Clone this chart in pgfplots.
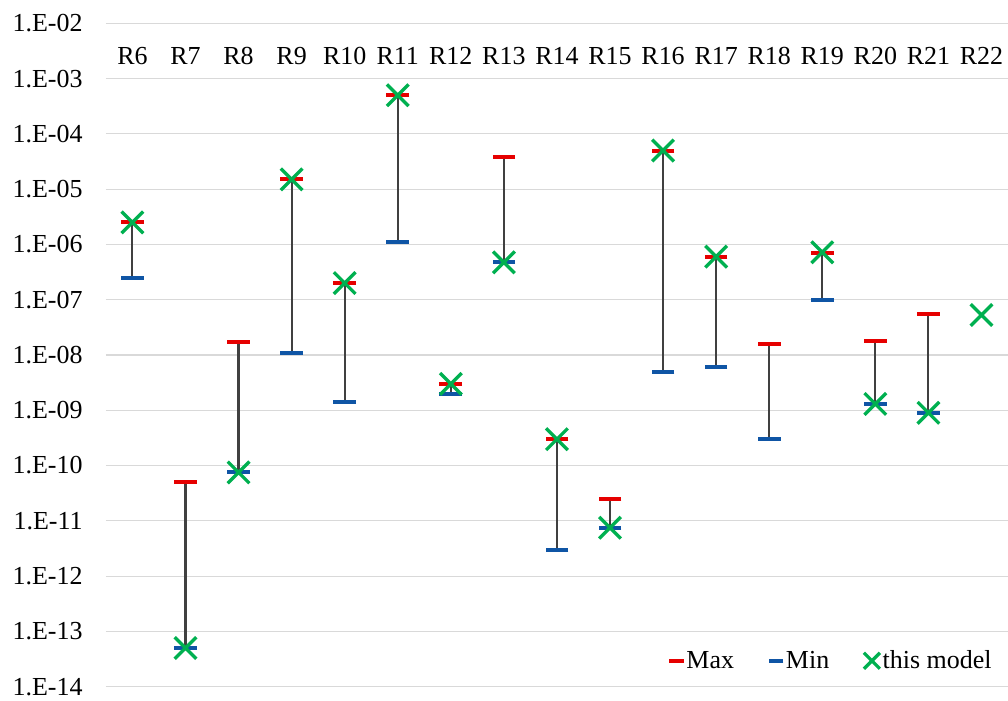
\documentclass[border=0pt]{standalone}
\usepackage{pgfplots}
\pgfplotsset{compat=1.18}
\usepackage{pgfplotstable}
\usepackage{fontspec}
\setmainfont{LiberationSerif}[Extension=.ttf,UprightFont=*-Regular,BoldFont=*-Bold,ItalicFont=*-Italic,BoldItalicFont=*-BoldItalic]
\definecolor{maxred}{RGB}{230,0,0}
\definecolor{minblue}{RGB}{15,85,165}
\definecolor{modgreen}{RGB}{0,176,80}
\definecolor{barcol}{RGB}{64,64,64}
\definecolor{gridcol}{RGB}{217,217,217}

\pgfplotsset{
  onemark legend/.style={legend image code/.code={\draw[##1] plot coordinates {(0.2cm,0cm)};}},
}

\pgfplotstableread{
x max min
0 2.5e-6 2.5e-7
1 5.0e-11 5.0e-14
2 1.7e-8 7.5e-11
3 1.5e-5 1.1e-8
4 2.0e-7 1.4e-9
5 5.0e-4 1.1e-6
6 3.0e-9 2.0e-9
7 3.8e-5 4.75e-7
8 3.0e-10 3.0e-12
9 2.5e-11 7.5e-12
10 5.0e-5 5.0e-9
11 6.0e-7 6.0e-9
12 1.6e-8 3.0e-10
13 7.0e-7 1.0e-7
14 1.8e-8 1.3e-9
15 5.4e-8 9.0e-10
}\rangetable

\pgfplotstableread{
x model
0 2.5e-6
1 5.0e-14
2 7.5e-11
3 1.5e-5
4 2.0e-7
5 5.0e-4
6 3.0e-9
7 4.75e-7
8 3.0e-10
9 7.5e-12
10 5.0e-5
11 6.0e-7
13 7.2e-7
14 1.3e-9
15 9.0e-10
16 5.3e-8
}\modeltable

\begin{document}
\begin{tikzpicture}
\begin{axis}[
  scale only axis,
  width=677.25pt, height=498pt,
  ymode=log, log basis y=10,
  ymin=1e-14, ymax=1e-2,
  xmin=-0.5, xmax=16.5,
  font=\fontsize{19.5}{23.4}\selectfont,
  axis line style={draw=none},
  tick style={draw=none},
  ymajorgrids, grid style={gridcol, line width=0.8pt},
  ytick={1e-14,1e-13,1e-12,1e-11,1e-10,1e-9,1e-8,1e-7,1e-6,1e-5,1e-4,1e-3,1e-2},
  yticklabel={\pgfmathparse{int(round(-\tick))}\let\ee\pgfmathresult 1.E-\ifnum\ee<10 0\fi\ee},
  yticklabel style={xshift=-14pt},
  xtick={0,...,16},
  xticklabels={R6,R7,R8,R9,R10,R11,R12,R13,R14,R15,R16,R17,R18,R19,R20,R21,R22},
  xticklabel pos=upper,
  xticklabel style={anchor=center, yshift=-24.75pt},
  legend style={draw=none, fill=none, at={(0.985,0.039)}, anchor=east,
    legend columns=3, font=\fontsize{19.5}{23.4}\selectfont,
    /tikz/every even column/.append style={column sep=24pt},
    inner sep=0pt},
  legend cell align=left,
  unbounded coords=jump,
]
% min-max range lines
\addplot[forget plot, barcol, line width=1.6pt] coordinates {
  (0,2.5e-6) (0,2.5e-7) (0,nan)
  (1,5.0e-11) (1,5.0e-14) (1,nan)
  (2,1.7e-8) (2,7.5e-11) (2,nan)
  (3,1.5e-5) (3,1.1e-8) (3,nan)
  (4,2.0e-7) (4,1.4e-9) (4,nan)
  (5,5.0e-4) (5,1.1e-6) (5,nan)
  (6,3.0e-9) (6,2.0e-9) (6,nan)
  (7,3.8e-5) (7,4.75e-7) (7,nan)
  (8,3.0e-10) (8,3.0e-12) (8,nan)
  (9,2.5e-11) (9,7.5e-12) (9,nan)
  (10,5.0e-5) (10,5.0e-9) (10,nan)
  (11,6.0e-7) (11,6.0e-9) (11,nan)
  (12,1.6e-8) (12,3.0e-10) (12,nan)
  (13,7.0e-7) (13,1.0e-7) (13,nan)
  (14,1.8e-8) (14,1.3e-9) (14,nan)
  (15,5.4e-8) (15,9.0e-10)
};
\addplot[only marks, mark=-, mark size=8.5pt, mark options={draw=maxred, line width=3pt},
  onemark legend, legend image post style={mark size=5.5pt}]
  table[x=x, y=max] {\rangetable};
\addlegendentry{Max}
\addplot[only marks, mark=-, mark size=8.5pt, mark options={draw=minblue, line width=3pt},
  onemark legend, legend image post style={mark size=5.5pt}]
  table[x=x, y=min] {\rangetable};
\addlegendentry{Min}
\addplot[only marks, mark=x, mark size=11.5pt, mark options={draw=modgreen, line width=2.5pt},
  onemark legend, legend image post style={mark size=8.5pt}]
  table[x=x, y=model] {\modeltable};
\addlegendentry{this model}
\end{axis}
\pgfresetboundingbox
\path[use as bounding box] (-79.5pt,-10.5pt) rectangle (677.25pt,515.5pt);
\end{tikzpicture}
\end{document}
